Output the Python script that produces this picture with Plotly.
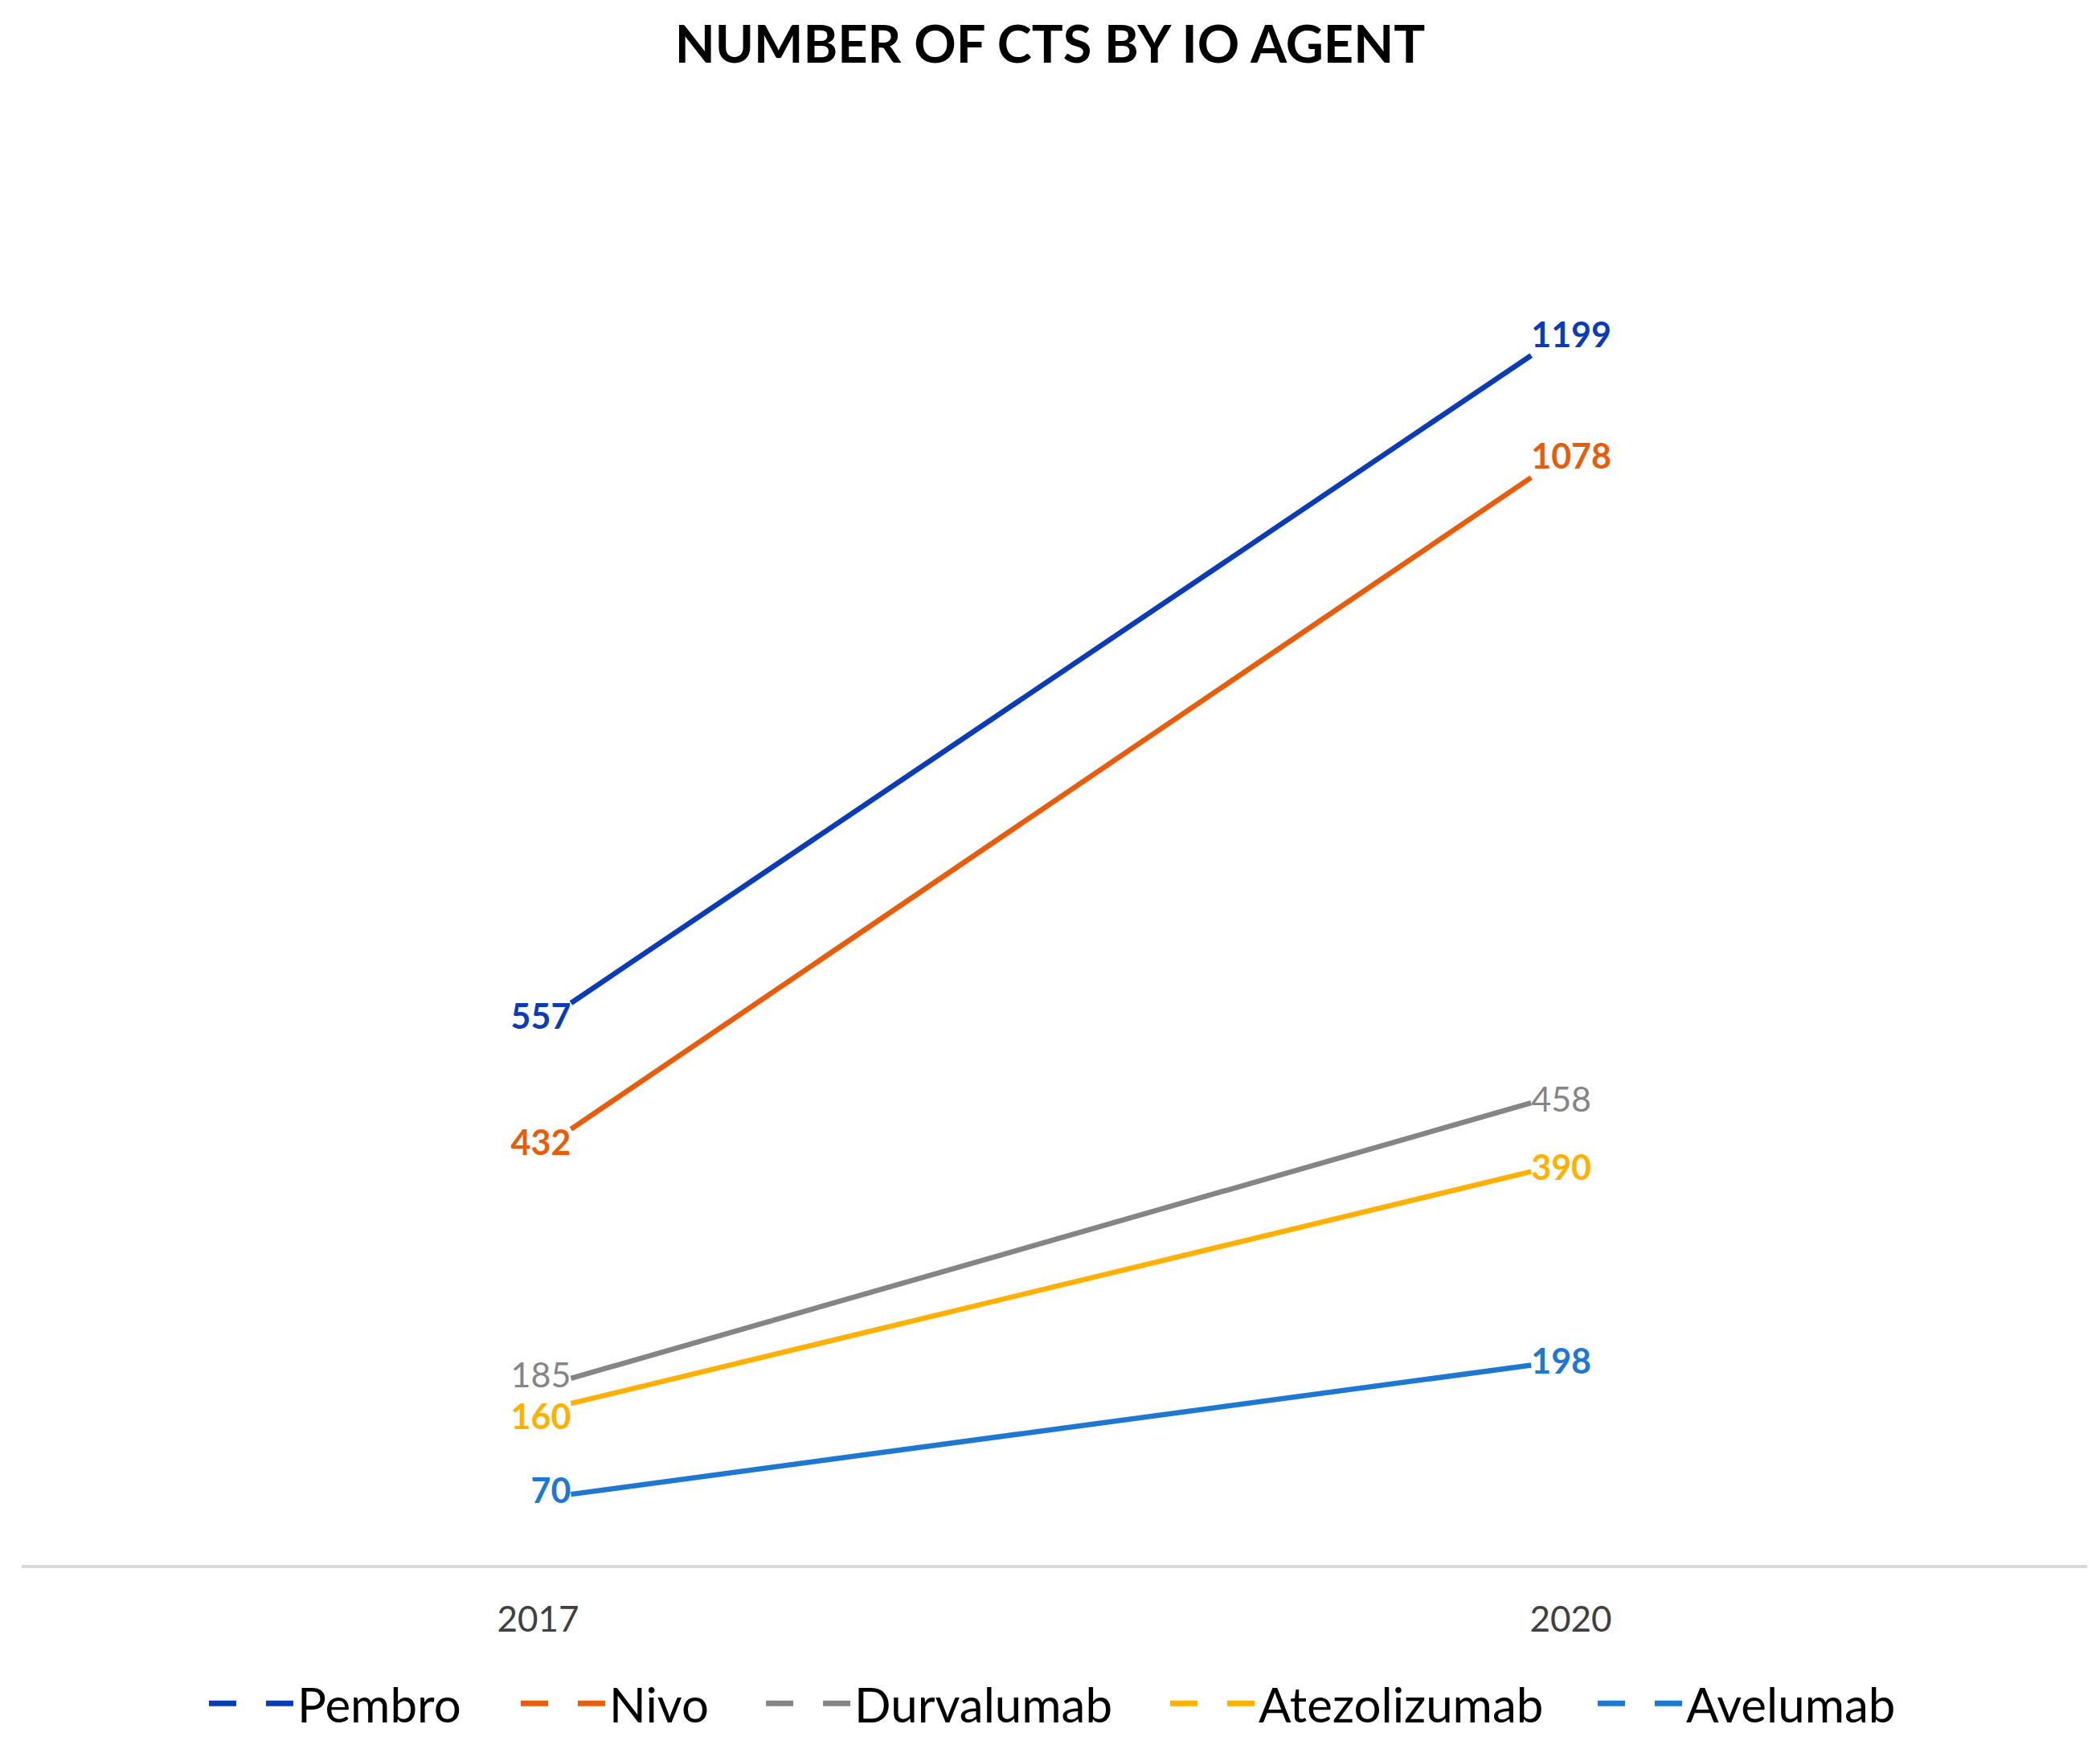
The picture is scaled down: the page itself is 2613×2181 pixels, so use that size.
import plotly.graph_objects as go

years = ["2017", "2020"]
agents = ["Pembro", "Nivo", "Durvalumab", "Atezolizumab", "Avelumab"]
pembro = [557, 1199]
nivo = [432, 1078]
durvalumab = [185, 458]
atezolizumab = [160, 390]
avelumab = [70, 198]
series = [pembro, nivo, durvalumab, atezolizumab, avelumab]

colors = ["#0b3cb6", "#e85d0c", "#858585", "#ffb000", "#1f78cf"]
label_bold = [True, True, False, True, True]
start_pos = ["bottom left", "bottom left", "middle left", "bottom left", "middle left"]
end_pos = ["top right", "top right", "middle right", "middle right", "middle right"]
# left edge of each legend entry, as a fraction of the plot width
legend_x = [0.0887, 0.2397, 0.3584, 0.5541, 0.7611]

fig = go.Figure()

for i, (name, vals, col, bold, p0, p1) in enumerate(zip(agents, series, colors, label_bold, start_pos, end_pos)):
    txt = [f"<b>{v}</b>" if bold else str(v) for v in vals]
    fig.add_trace(go.Scatter(
        x=years, y=vals, mode="lines+text", name=name,
        line=dict(color=col, width=6.5),
        text=txt, textposition=[p0, p1],
        textfont=dict(family="Lato", size=43, color=col),
        showlegend=False,
        cliponaxis=False,
    ))
    # legend entry drawn with the dashed sample the original uses
    lg = "legend" if i == 0 else f"legend{i + 1}"
    fig.add_trace(go.Scatter(
        x=[None], y=[None], mode="lines", name=name, legend=lg,
        line=dict(color=col, width=7, dash="34px,37px"),
    ))

# year labels sit on the full category slots, the lines are drawn a bit inside them
fig.add_trace(go.Scatter(x=years, y=[None, None], xaxis="x2", showlegend=False,
                         hoverinfo="skip", mode="lines"))

legends = {}
for i, lx in enumerate(legend_x):
    key = "legend" if i == 0 else f"legend{i + 1}"
    legends[key] = dict(orientation="h", x=lx, xanchor="left", y=-0.098, yanchor="middle",
                        font=dict(family="Lato", size=60, color="black"),
                        itemwidth=105, bgcolor="rgba(0,0,0,0)")

fig.update_layout(
    width=2597, height=2165,
    margin=dict(l=19, r=8, t=182, b=206),
    paper_bgcolor="white", plot_bgcolor="white",
    title=dict(text="<b>NUMBER OF CTS BY IO AGENT</b>", x=0.5, xanchor="center",
               y=0.978, yanchor="middle",
               font=dict(family="Lato", size=65, color="black")),
    xaxis=dict(type="category", range=[-0.572, 1.579], showgrid=False, zeroline=False,
               showline=True, linecolor="#d9d9d9", linewidth=4,
               showticklabels=False, ticks=""),
    xaxis2=dict(type="category", range=[-0.5, 1.5], overlaying="x", anchor="y", side="bottom",
                showgrid=False, zeroline=False, showline=False, ticks="",
                tickfont=dict(family="Lato", size=44, color="#404040"),
                ticklabelstandoff=38),
    yaxis=dict(range=[0, 1400], visible=False, showgrid=False, zeroline=False),
    **legends,
)

fig.write_html("out.html")
